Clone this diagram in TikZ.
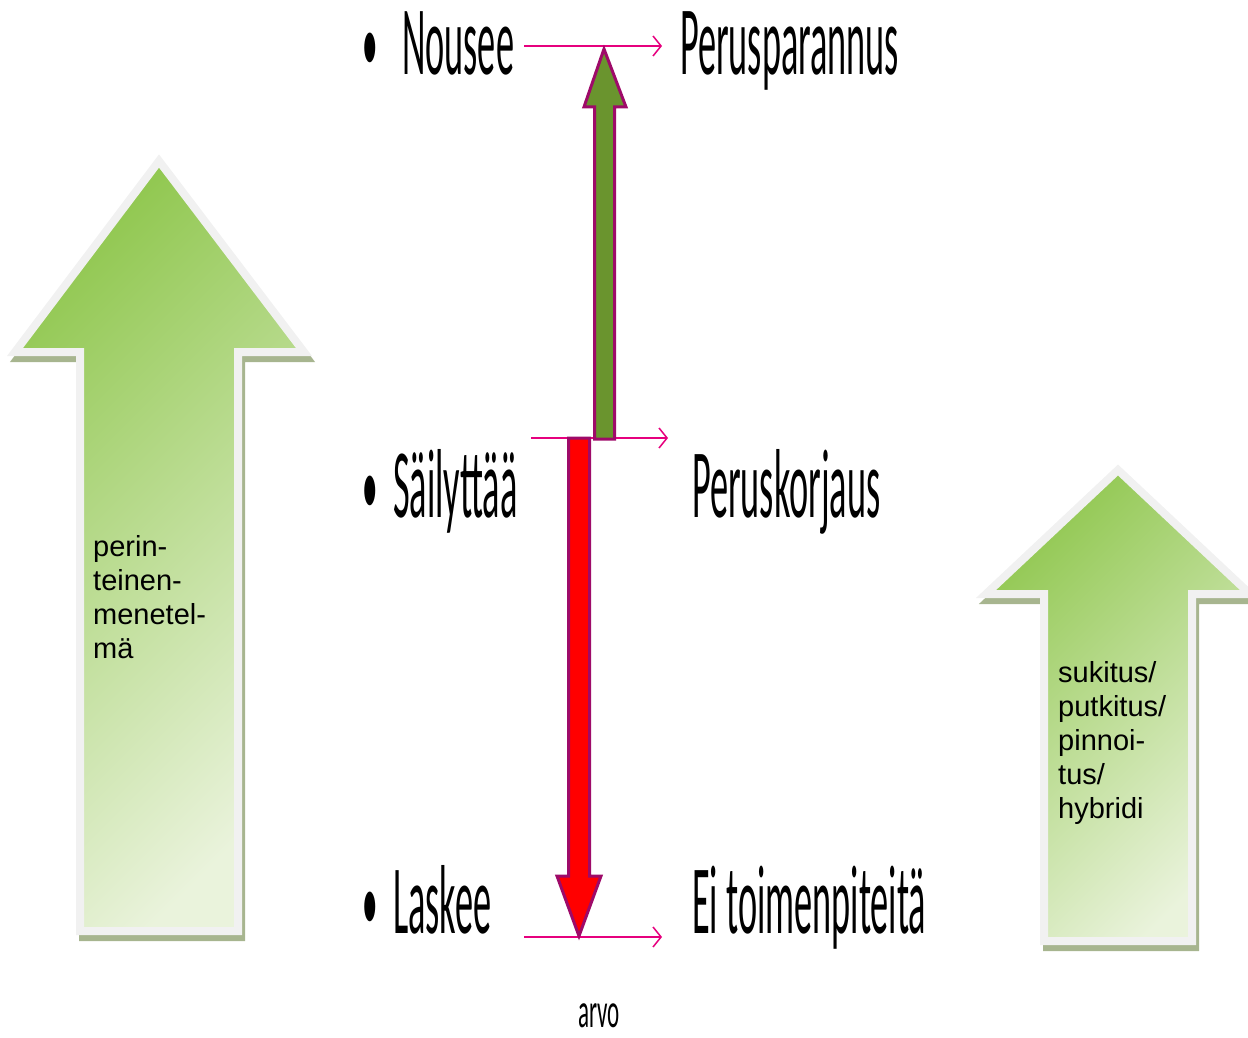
\documentclass[tikz,border=0pt]{standalone}
\usepackage{fontspec}
\usetikzlibrary{arrows.meta}
\setmainfont{Liberation Sans}
\newfontfamily\condfont[FakeStretch=0.37]{Carlito}
\newfontfamily\smallcondfont[FakeStretch=0.47]{Carlito}
\definecolor{pinkline}{RGB}{230,0,126}
\definecolor{rimcol}{RGB}{158,10,105}
\definecolor{olive}{RGB}{106,148,46}
\definecolor{bigdark}{RGB}{146,200,82}
\definecolor{biglight}{RGB}{234,243,220}
\definecolor{bigrim}{RGB}{241,241,241}
\definecolor{bigshadow}{RGB}{167,181,143}

\begin{document}
\begin{tikzpicture}[x=1pt,y=-1pt,
  word/.style={anchor=base west,inner sep=0pt,font=\condfont\fontsize{98}{98}\selectfont},
  arrowtext/.style={anchor=north west,inner sep=0pt,align=left,font=\fontsize{29}{34}\selectfont},
  pinkarrow/.style={draw=pinkline,line width=1.5pt,-{Straight Barb[length=8pt,width=20pt]}},
  valuearrow/.style={draw=rimcol,line width=3pt,line join=miter},
  bigshade/.style={draw=bigrim,line width=8pt,top color=bigdark,bottom color=biglight,shading angle=45},
  bigback/.style={fill=bigshadow,draw=bigshadow,line width=8pt,shift={(3,6)}}]
\useasboundingbox (0,0) rectangle (1248,1038);
\clip (0,0) rectangle (1248,1038);

% big arrows
\filldraw[bigback] (159,161) -- (304,352) -- (238,352) -- (238,931) -- (80,931) -- (80,352) -- (15,352) -- cycle;
\shade[bigshade] (159,161) -- (304,352) -- (238,352) -- (238,931) -- (80,931) -- (80,352) -- (15,352) -- cycle;
\filldraw[bigback] (1118,470) -- (1250,594) -- (1192,594) -- (1192,941) -- (1044,941) -- (1044,594) -- (986,594) -- cycle;
\shade[bigshade] (1118,470) -- (1250,594) -- (1192,594) -- (1192,941) -- (1044,941) -- (1044,594) -- (986,594) -- cycle;

\node[arrowtext] (trad) at (93,535) {perin-\\teinen-\\menetel-\\mä};
\node[arrowtext] (pipe) at (1058,661) {sukitus/\\putkitus/\\pinnoi-\\tus/\\hybridi};

% levels
\node[word,font=\condfont\fontsize{84}{84}\selectfont] (b1) at (362,72) {•};
\node[word] (up) at (402,75) {Nousee};
\node[word,font=\condfont\fontsize{84}{84}\selectfont] (b2) at (362,514) {•};
\node[word] (keep) at (393,517) {Säilyttää};
\node[word,font=\condfont\fontsize{84}{84}\selectfont] (b3) at (362,930) {•};
\node[word] (down) at (393,933) {Laskee};
\node[word] (better) at (680,75) {Perusparannus};
\node[word] (repair) at (692,517) {Peruskorjaus};
\node[word] (none) at (692,933) {Ei toimenpiteitä};
\node[anchor=base west,inner sep=0pt,font=\smallcondfont\fontsize{49}{49}\selectfont] (value) at (578,1027) {arvo};

\coordinate (l1a) at (524,46);
\coordinate (l1b) at (662,46);
\coordinate (l2a) at (531,438);
\coordinate (l2b) at (668,438);
\coordinate (l3a) at (524,937);
\coordinate (l3b) at (662,937);
\draw[pinkarrow] (l1a) -- (l1b);
\draw[pinkarrow] (l2a) -- (l2b);
\draw[pinkarrow] (l3a) -- (l3b);

% value arrows
\filldraw[valuearrow,fill=olive] (604,49) -- (626,107) -- (614.5,107) -- (614.5,439) -- (594.5,439) -- (594.5,107) -- (584,107) -- cycle;
\filldraw[valuearrow,fill=red] (568.5,438) -- (589.5,438) -- (589.5,876) -- (601,876) -- (579,936) -- (557,876) -- (568.5,876) -- cycle;
\end{tikzpicture}
\end{document}
